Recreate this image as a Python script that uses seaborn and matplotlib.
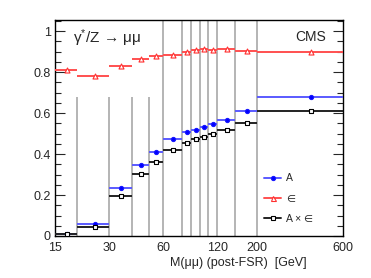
import numpy as np
import pandas as pd
import matplotlib
matplotlib.use("Agg")
import matplotlib.pyplot as plt
from matplotlib.lines import Line2D
import seaborn as sns

# ---- data ----
edges = [15, 20, 30, 40, 50, 60, 76, 86, 96, 106, 120, 150, 200, 600]
acc = [0.010, 0.057, 0.236, 0.348, 0.411, 0.473, 0.506, 0.517, 0.532, 0.546, 0.566, 0.608, 0.676]
eff = [0.810, 0.780, 0.831, 0.865, 0.878, 0.885, 0.899, 0.909, 0.912, 0.909, 0.914, 0.901, 0.899]
acceff = [0.008, 0.044, 0.195, 0.301, 0.362, 0.418, 0.455, 0.472, 0.485, 0.498, 0.517, 0.550, 0.608]
xtick_vals = [15, 30, 60, 120, 200, 600]
ytick_vals = [0, 0.2, 0.4, 0.6, 0.8, 1.0]
ytick_labels = ["0", "0.2", "0.4", "0.6", "0.8", "1"]
short_edges = [20, 30, 40, 50]
tall_edges = [60, 76, 86, 96, 106, 120, 150, 200]

sns.set_theme(style="ticks")
plt.rcParams['font.family'] = ['Liberation Sans', 'DejaVu Sans']
plt.rcParams['mathtext.fontset'] = 'custom'
plt.rcParams['mathtext.rm'] = 'Liberation Sans'
plt.rcParams['mathtext.it'] = 'Liberation Sans'

lo = np.array(edges[:-1], dtype=float)
hi = np.array(edges[1:], dtype=float)
centers = (lo + hi) / 2

fig = plt.figure(figsize=(3.71, 2.78), dpi=100)
ax = fig.add_axes([55/371, 1-236/278, (343-55)/371, (236-20)/278])
ax.set_xscale("log")
ax.set_xlim(15, 600)
ax.set_ylim(0, 1.054)

# bin edge guide lines
ax.vlines(short_edges, 0, 0.678, color="#a8a8a8", lw=1.2, zorder=1)
ax.vlines(tall_edges, 0, 1.054, color="#a8a8a8", lw=1.2, zorder=1)

series = [
    ("A", acc, "#1a1aff", "#5a5aff", "o", "#0000ff", 3.0),
    ("\u2208", eff, "#ff3030", "#ff5050", "^", "none", 3.6),
    ("A\u00d7\u2208", acceff, "#000000", "#222222", "s", "none", 3.3),
]
handles = []
for name, vals, mcol, lcol, mk, fc, ms in series:
    df = pd.DataFrame({"lo": lo, "hi": hi, "x": centers, "y": vals})
    ax.hlines(df["y"], df["lo"], df["hi"], color=lcol, lw=1.4, zorder=3)
    sns.scatterplot(data=df, x="x", y="y", ax=ax, marker=mk, s=ms**2,
                    facecolor=(fc if fc != "none" else "white"), edgecolor=mcol,
                    linewidth=0.8, zorder=4, legend=False)
    handles.append(Line2D([], [], color=lcol, lw=1.4, marker=mk, ms=ms,
                          markerfacecolor=(fc if fc != "none" else "white"),
                          markeredgecolor=mcol, markeredgewidth=0.8))

ax.set_xticks(xtick_vals)
ax.set_xticklabels([str(v) for v in xtick_vals])
ax.xaxis.set_minor_locator(matplotlib.ticker.NullLocator())
ax.tick_params(axis="x", length=0, labelsize=9, pad=4.5)
ax.set_yticks(ytick_vals)
ax.set_yticklabels(ytick_labels)
ax.yaxis.set_minor_locator(matplotlib.ticker.MultipleLocator(0.05))
ax.tick_params(axis="y", which="major", direction="in", length=7, width=0.8,
               labelsize=9, right=True, left=True, pad=3)
ax.tick_params(axis="y", which="minor", direction="in", length=4, width=0.8,
               right=True, left=True)
for s in ax.spines.values():
    s.set_visible(True)
    s.set_color("black")
    s.set_linewidth(1.0)
ax.set_xlabel("")
ax.set_ylabel("")

ax.text(73/371, 1-38/278, "\u03b3$^{*}$/Z \u2192 \u03bc\u03bc", transform=fig.transFigure,
        fontsize=11, ha="left", va="center")
ax.text(326/371, 1-37/278, "CMS", transform=fig.transFigure,
        fontsize=10, ha="right", va="center")
fig.text(307/371, 1-263/278, "M(\u03bc\u03bc) (post-FSR)  [GeV]", fontsize=9,
         ha="right", va="center")

leg = ax.legend(handles, ["A", "\u2208", "A \u00d7 \u2208"], frameon=False,
                loc="upper left", bbox_to_anchor=(259/371, 1-168/278),
                bbox_transform=fig.transFigure, fontsize=7.5, handlelength=1.6,
                handletextpad=0.5, labelspacing=1.0, borderpad=0)

fig.savefig("out.png", dpi=100)
